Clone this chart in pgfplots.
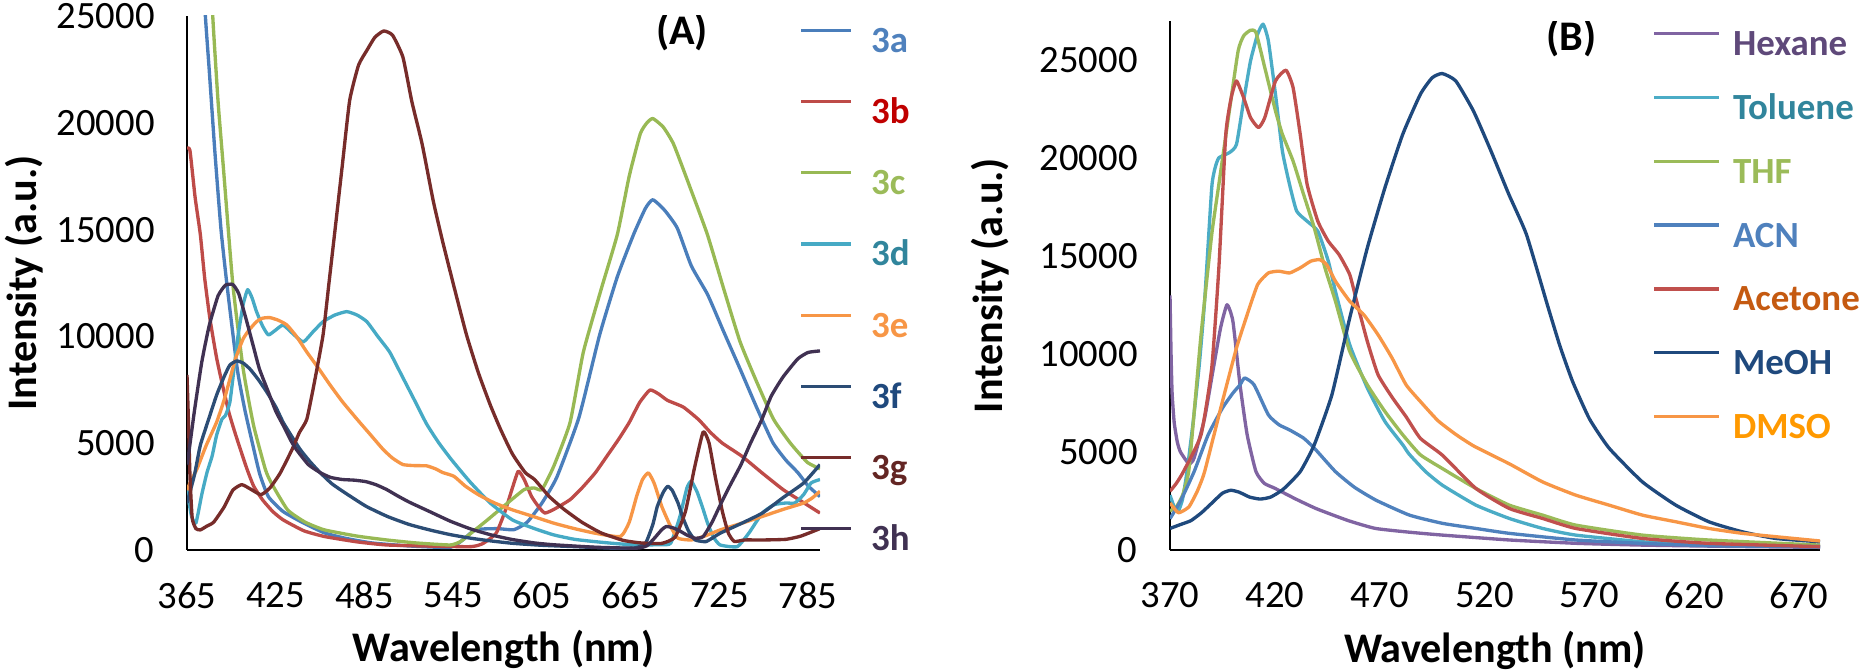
\documentclass[border=0pt]{standalone}
\usepackage{fontspec}
\setmainfont{Carlito}
\usepackage{pgfplots}
\pgfplotsset{compat=1.18}
% line colours
\definecolor{c3a}{HTML}{4A7EBB}
\definecolor{c3b}{HTML}{BE4B48}
\definecolor{c3c}{HTML}{98B954}
\definecolor{c3d}{HTML}{46AAC5}
\definecolor{c3e}{HTML}{F79646}
\definecolor{c3f}{HTML}{2C4D75}
\definecolor{c3g}{HTML}{772C2A}
\definecolor{c3h}{HTML}{403152}
% legend text colours A
\definecolor{t3a}{HTML}{4F81BD}
\definecolor{t3b}{HTML}{C00000}
\definecolor{t3c}{HTML}{9BBB59}
\definecolor{t3d}{HTML}{31859C}
\definecolor{t3e}{HTML}{F79646}
\definecolor{t3f}{HTML}{1F497D}
\definecolor{t3g}{HTML}{632523}
\definecolor{t3h}{HTML}{403152}
% B
\definecolor{cHex}{HTML}{8064A2}
\definecolor{cTol}{HTML}{4BACC6}
\definecolor{cTHF}{HTML}{9BBB59}
\definecolor{cACN}{HTML}{4F81BD}
\definecolor{cAce}{HTML}{C0504D}
\definecolor{cMeO}{HTML}{1F497D}
\definecolor{cDMS}{HTML}{F79646}
\definecolor{tHex}{HTML}{5F497A}
\definecolor{tTol}{HTML}{31859C}
\definecolor{tTHF}{HTML}{9BBB59}
\definecolor{tACN}{HTML}{4F81BD}
\definecolor{tAce}{HTML}{C55A11}
\definecolor{tMeO}{HTML}{1F497D}
\definecolor{tDMS}{HTML}{FF9900}
\pgfplotsset{
  mystyle/.style={
    scale only axis, enlargelimits=false,
    axis lines*=left, axis line style={black},
    major tick length=0pt,
    tick label style={font=\fontsize{11}{13}\selectfont},
    /pgf/number format/assume math mode=true,
    scaled y ticks=false,
    yticklabel style={/pgf/number format/fixed,/pgf/number format/1000 sep={},xshift=-0.2cm},
    xticklabel style={/pgf/number format/1000 sep={},yshift=-0.2cm},
    xlabel={Wavelength (nm)}, ylabel={Intensity (a.u.)},
    no markers,
    every axis plot/.append style={line width=0.95pt, line join=round, smooth, tension=0.3},
    legend cell align=left,
  }
}
\begin{document}
\begin{tikzpicture}
\path[use as bounding box] (0,0) rectangle (18.59,6.70);
%%%%%%%%%%%%%%%% Panel A
\begin{axis}[mystyle,
  at={(1.87cm,1.20cm)}, anchor=south west,
  width=6.33cm, height=5.34cm,
  xmin=365, xmax=793, ymin=0, ymax=25000,
  axis line style={line width=0.85pt},
  xtick={365,425,485,545,605,665,725,785},
  ytick={0,5000,10000,15000,20000,25000},
  every axis y label/.style={at={(axis description cs:-0.257,0.5)}, rotate=90, anchor=center, font=\fontsize{12}{14}\selectfont\bfseries},
  every axis x label/.style={at={(axis description cs:0.5,-0.187)}, anchor=center, font=\fontsize{12}{14}\selectfont\bfseries},
  legend style={at={(0.967,0.980)}, anchor=north west, draw=none, fill=none, inner sep=0pt,
    row sep=0.412cm, column sep=0.18cm,
    nodes={inner sep=0pt, text height=0.25cm, text depth=0.05cm, font=\fontsize{10.5}{12}\selectfont\bfseries}},
  legend image code/.code={\draw[#1, line width=0.95pt] (0cm,0.12cm) -- (0.5cm,0.12cm);},
  legend entries={\textcolor{t3a}{3a},\textcolor{t3b}{3b},\textcolor{t3c}{3c},\textcolor{t3d}{3d},\textcolor{t3e}{3e},\textcolor{t3f}{3f},\textcolor{t3g}{3g},\textcolor{t3h}{3h}},
]
% 3a
\addplot[c3a] coordinates {(365,46000)(370,36000)(375,30000)(377,25500)(380,22500)(384,18500)(388,15000)(392,12430)(399,8470)(404,6600)(408,5370)(414,3600)(420,2500)(430,1800)(444,1256)(458,800)(472,550)(490,330)(515,190)(543,125)(552,500)(560,950)(575,1000)(586,950)(595,1300)(605,2200)(615,3400)(630,6200)(644,10070)(656,12800)(667,14780)(675,16000)(680,16400)(688,15900)(696.5,15070)(706,13300)(717,11960)(728,10200)(739,8470)(750,6700)(761,5040)(770,4200)(778,3625)(785,3000)(793,2500)};
% 3b
\addplot[c3b] coordinates {(365,18800)(367,18700)(370.5,16500)(374,14780)(377,12700)(380.5,10830)(385,9000)(389,7720)(393.5,6400)(398,5370)(405,3900)(410,3000)(416,2355)(423,1800)(430,1410)(444,900)(458,630)(480,380)(500,235)(530,180)(557,157)(565,300)(574,785)(580,1800)(585,2900)(589,3690)(593,3300)(598,2500)(603,2000)(607,1730)(613,1900)(624,2355)(632,2900)(641,3610)(650,4500)(657,5200)(664,5970)(671,6900)(678,7490)(684,7300)(690,7000)(700.6,6690)(711,6100)(719,5500)(727,5000)(740,4400)(754,3600)(768,2830)(780,2300)(793,1730)};
% 3c
\addplot[c3c] coordinates {(365,60000)(375,38000)(380,29000)(382.4,25000)(386,21000)(389.6,17900)(396,12430)(403,8470)(410,5840)(418,3770)(422,3140)(433,1880)(445,1300)(458,940)(480,650)(500,470)(520,330)(543,235)(550,400)(557,785)(568,1400)(579,2040)(593,2830)(600,2900)(605,2830)(613,3925)(624,5970)(633,9270)(645,12200)(656,14780)(664,17500)(671.5,19490)(676,20000)(680,20200)(687,19800)(694,19000)(705,17000)(716.8,14780)(728,12200)(739,9740)(750,7900)(761.6,6120)(773,5000)(784.5,4100)(793,3800)};
% 3d
\addplot[c3d] coordinates {(365,2800)(368,1600)(371,1256)(375,2600)(378.5,3625)(382,4400)(385,5370)(388.6,6120)(391,6300)(394,6920)(397,8600)(399.6,10070)(403,11500)(406,12190)(409,11800)(412,11160)(416,10500)(420,10070)(425,10300)(430,10530)(437,10100)(443.6,9740)(450,10200)(457,10690)(465,11000)(473,11160)(480,11000)(486.6,10690)(494,10000)(502,9270)(510,8200)(519.5,6920)(527,5900)(535,5040)(543,4300)(551,3625)(557,3140)(570,2200)(585,1410)(600,1000)(613,706)(627,500)(641,390)(655,300)(669,235)(685,250)(692,314)(698,1500)(703,2900)(706,3220)(710,2700)(714,1900)(717,1256)(721,600)(725.5,235)(737,157)(745,800)(754,1730)(762,2120)(770,2200)(776,2200)(782,2600)(787,3140)(793,3300)};
% 3e
\addplot[c3e] coordinates {(365,2800)(368,3300)(371.6,3770)(378,4900)(385,5980)(390,7000)(394,8000)(398,9000)(403,9890)(407,10300)(412,10690)(416,10850)(421,10880)(427,10750)(432.6,10530)(439,10000)(446,9270)(454,8500)(461.8,7720)(470,6950)(480,6120)(489,5400)(497.6,4710)(504,4300)(511,4000)(519,3950)(527,3940)(533,3800)(538,3625)(545.5,3450)(553,3000)(562,2590)(573,2200)(585,1880)(600,1550)(613,1256)(627,1000)(641,785)(658,630)(664,1300)(669,2510)(673,3300)(677,3610)(681,3100)(686,2040)(692,1100)(697,550)(706,470)(715,650)(725.5,940)(740,1250)(754,1570)(768,1900)(782,2200)(788,2450)(793,2750)};
% 3f
\addplot[c3f] coordinates {(365,2200)(370,3500)(374,4900)(380,6200)(385,7250)(390,8100)(394,8660)(398.6,8850)(403,8750)(407.6,8470)(413,8000)(419,7390)(425,6700)(430,5980)(436,5300)(441.5,4710)(448,4150)(455,3625)(463,3100)(472,2670)(486,2050)(500.5,1570)(515,1200)(529,940)(543,720)(557,550)(571,420)(585,314)(605,220)(627,157)(655,80)(668,100)(675,314)(680,1200)(683,2040)(687,2700)(690,2980)(693,2800)(697,2200)(700,1570)(704,900)(708.6,470)(715.6,390)(720,550)(725.5,785)(740,1250)(754,1730)(768,2450)(782,3140)(793,4000)};
% 3g
\addplot[c3g] coordinates {(365,8200)(366,6000)(367,3500)(368.5,1500)(371,1000)(374,940)(378,1100)(383,1300)(390,2000)(396,2800)(402,3060)(408,2850)(415,2590)(421,2900)(428,3600)(436,4700)(441,5500)(446,6120)(451,7800)(457,10070)(461,12500)(466,15540)(470,18000)(475,21050)(481,22700)(486.7,23400)(492,24000)(498,24300)(504,24100)(511,23070)(517,21000)(524,19000)(531.5,16340)(538,14400)(546,12200)(554,10070)(562,8300)(570,6800)(577,5650)(585,4500)(593.7,3625)(600,3300)(610,2500)(620,1900)(632,1300)(645,800)(660,450)(672,330)(686,310)(695,600)(702,1800)(708,3800)(714,5530)(718,5000)(722,3500)(727,1800)(731,800)(735,400)(742,470)(755,470)(770,500)(780,650)(793,1000)};
% 3h
\addplot[c3h] coordinates {(365,4000)(366,4430)(370,6500)(375,8800)(380,10500)(386,11900)(391,12400)(396,12430)(400,12000)(405,10800)(410,9500)(414,8470)(420,7400)(425,6500)(430,5840)(435,5150)(439,4700)(447,4000)(455,3625)(462,3400)(470,3300)(478,3270)(486,3200)(493,3050)(500,2830)(507,2550)(515,2250)(529,1800)(543,1350)(557,980)(571,700)(585,490)(600,330)(613,245)(641,130)(669,85)(676,200)(681,550)(686,950)(689,1100)(693,1050)(697,940)(703,700)(708.6,550)(714,630)(720,1300)(725.5,2100)(732,3000)(739.6,4000)(746,5000)(753.6,6100)(760,7200)(768,8100)(778,8950)(785,9250)(793,9320)};
\node[font=\fontsize{12}{14}\selectfont\bfseries] at (rel axis cs:0.782,0.970) {(A)};
\end{axis}
%%%%%%%%%%%%%%%% Panel B
\begin{axis}[mystyle,
  at={(11.70cm,1.20cm)}, anchor=south west,
  width=6.50cm, height=5.29cm,
  xmin=370, xmax=680, ymin=0, ymax=27000,
  axis line style={line width=0.45pt},
  xtick={370,420,470,520,570,620,670},
  ytick={0,5000,10000,15000,20000,25000},
  every axis y label/.style={at={(axis description cs:-0.277,0.5)}, rotate=90, anchor=center, font=\fontsize{12}{14}\selectfont\bfseries},
  every axis x label/.style={at={(axis description cs:0.5,-0.189)}, anchor=center, font=\fontsize{12}{14}\selectfont\bfseries},
  legend style={at={(0.7415,0.983)}, anchor=north west, draw=none, fill=none, inner sep=0pt,
    row sep=0.338cm, column sep=0.12cm,
    nodes={inner sep=0pt, text height=0.25cm, text depth=0.05cm, font=\fontsize{10.5}{12}\selectfont\bfseries}},
  legend image code/.code={\draw[#1, line width=0.95pt] (0cm,0.12cm) -- (0.65cm,0.12cm);},
  legend entries={\textcolor{tHex}{Hexane},\textcolor{tTol}{Toluene},\textcolor{tTHF}{THF},\textcolor{tACN}{ACN},\textcolor{tAce}{Acetone},\textcolor{tMeO}{MeOH},\textcolor{tDMS}{DMSO}},
]
% Hexane
\addplot[cHex] coordinates {(370,13000)(370.5,10000)(371,8000)(372,6500)(373.5,5500)(375,5000)(379,4400)(381.5,4700)(386.5,6730)(390.7,9290)(394.1,11330)(397.2,12520)(400,11670)(403.4,8430)(406.8,5880)(411,4000)(415,3400)(420,3150)(430,2600)(440,2100)(455,1500)(468,1100)(485,900)(500,760)(532,510)(564,340)(595,250)(640,180)(680,135)};
% Toluene
\addplot[cTol] coordinates {(370,2800)(372,2200)(374,2000)(376,2600)(378.1,4000)(381,6500)(384,9500)(386.5,12700)(389.9,18490)(391.5,19500)(393.3,20020)(398.3,20280)(401.7,20700)(405.1,22920)(408.4,24960)(411.8,26330)(414.4,26840)(416.9,25990)(420.3,23260)(423.6,20360)(427.0,18660)(430.4,17300)(435.4,16780)(440.5,16270)(445.5,14740)(448.9,13200)(455.7,10480)(464.1,8270)(472.5,6560)(481.0,5370)(484,4900)(491.9,4000)(500,3300)(515.9,2290)(531.8,1610)(547.7,1100)(563.5,760)(595.3,420)(627,250)(680,170)};
% THF
\addplot[cTHF] coordinates {(370,2000)(373,2200)(376,2800)(378.9,4000)(381.5,7000)(384.8,10990)(389.9,16100)(393.3,18660)(398.3,22410)(402.5,25480)(405.1,26240)(408.4,26530)(411.0,26410)(415.2,24620)(420.3,22410)(423.6,21220)(428.7,19850)(433.7,18150)(438.8,16440)(443.9,14400)(448.9,12700)(455.7,10140)(464.1,8430)(472.5,7070)(481.0,5880)(489.4,4860)(500,4150)(515.9,3140)(531.8,2290)(547.7,1780)(563.5,1270)(595.3,760)(627,510)(680,250)};
% ACN
\addplot[cACN] coordinates {(370,1600)(375,2500)(381.5,4000)(388.2,5880)(395.0,7240)(400.0,8010)(403.4,8430)(405.6,8780)(410.1,8430)(416.9,6900)(422.0,6390)(427.0,6130)(433.7,5710)(438.8,5200)(448.9,4000)(458,3200)(468.3,2540)(484.2,1780)(500,1360)(515.9,1100)(531.8,850)(563.5,510)(595.3,340)(627,220)(680,170)};
% Acetone
\addplot[cAce] coordinates {(370,3000)(373,3400)(376.4,4000)(384.8,5880)(389.9,9290)(393.3,14400)(396.6,21220)(399.2,23090)(401.7,23940)(405.1,23090)(408.4,22070)(412.2,21560)(415.2,22070)(420.3,23940)(425.3,24490)(428.7,23600)(432.1,21220)(435.4,18660)(440.5,16780)(445.5,15760)(450.6,15080)(455.7,14060)(459.0,12700)(464.1,10650)(469.2,8950)(475.9,7800)(482.6,6800)(489.4,5700)(500,4830)(515.9,3140)(531.8,2120)(547.7,1610)(563.5,1100)(595.3,590)(627,340)(680,170)};
% MeOH
\addplot[cMeO] coordinates {(370,1100)(375,1300)(380,1500)(385,1900)(390,2400)(395,2900)(399,3050)(403,2950)(408,2700)(413,2600)(418,2700)(424,3100)(432.1,4000)(438.8,5370)(447.2,7920)(455.7,11840)(464.1,15420)(472.5,18490)(481.0,21220)(489.4,23260)(495,24100)(499.8,24320)(506.3,23940)(514.7,22410)(523.1,20360)(531.6,18150)(540.0,16100)(550,12500)(556,10400)(562,8600)(570,6700)(579.4,5200)(595.3,3475)(611.2,2290)(627,1440)(642.9,930)(658.8,590)(680,420)};
% DMSO
\addplot[cDMS] coordinates {(370,2400)(374,1900)(379,2200)(383,3000)(386.5,4000)(395.0,7580)(401.7,10310)(406.8,12010)(411.8,13550)(416.9,14140)(421.9,14230)(427.0,14140)(432.1,14400)(437.1,14740)(441.3,14820)(444.7,14570)(448.9,13720)(455.7,12700)(462.4,12010)(469.2,10990)(475.9,9800)(482.6,8430)(489.4,7580)(497.8,6600)(506.3,5900)(515,5300)(531.8,4400)(547.7,3475)(563.5,2800)(579.4,2290)(595.3,1780)(611.2,1440)(627,1100)(642.9,850)(658.8,680)(680,460)};
\node[font=\fontsize{12}{14}\selectfont\bfseries] at (rel axis cs:0.618,0.968) {(B)};
\end{axis}
\end{tikzpicture}
\end{document}
